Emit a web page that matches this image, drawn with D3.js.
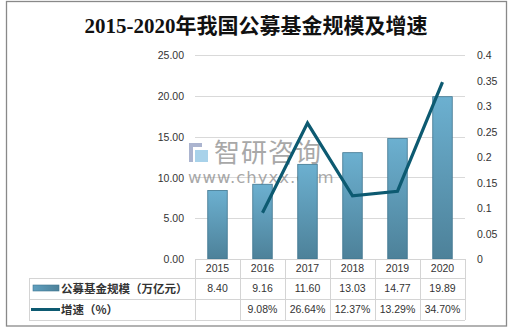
<!DOCTYPE html>
<html>
<head>
<meta charset="utf-8">
<script src="https://cdn.jsdelivr.net/npm/d3@7"></script>
<style>
  body { margin: 0; background: #fff; }
  svg { display: block; }
</style>
</head>
<body>
<svg id="chart" width="513" height="330"></svg>
<script>
// Public fund scale (trillion yuan) and year-on-year growth, 2015-2020
const years = ["2015", "2016", "2017", "2018", "2019", "2020"];
const fundScale = [8.40, 9.16, 11.60, 13.03, 14.77, 19.89];
const growth = [null, 0.0908, 0.2664, 0.1237, 0.1329, 0.3470];
const leftTicks = [0, 5, 10, 15, 20, 25];
const rightTicks = [0, 0.05, 0.1, 0.15, 0.2, 0.25, 0.3, 0.35, 0.4];
const seriesNames = ["公募基金规模（万亿元）", "增速（%）"];
const title = "2015-2020年我国公募基金规模及增速";

const svg = d3.select("#chart");
const fontCN = "'Liberation Sans', 'Noto Sans CJK SC', sans-serif";

const plot = { left: 195, right: 465, top: 55, bottom: 259 };

// outer frame
svg.append("rect")
  .attr("x", 6.5).attr("y", 1.5).attr("width", 500).attr("height", 324.5)
  .attr("fill", "#fff").attr("stroke", "#898989").attr("stroke-width", 1.3);

// title
svg.append("text")
  .attr("x", 256).attr("y", 33)
  .attr("text-anchor", "middle")
  .attr("font-family", "'Liberation Serif', 'Noto Sans CJK SC', serif")
  .attr("font-size", 21)
  .attr("font-weight", "bold")
  .attr("fill", "#111")
  .text(title);

const x = d3.scaleBand().domain(years).range([plot.left, plot.right]);
const yL = d3.scaleLinear().domain([0, 25]).range([plot.bottom, plot.top]);
const yR = d3.scaleLinear().domain([0, 0.4]).range([plot.bottom, plot.top]);

// gridlines
svg.append("g")
  .selectAll("line").data(leftTicks.filter(d => d > 0)).join("line")
  .attr("x1", plot.left).attr("x2", plot.right)
  .attr("y1", d => Math.round(yL(d)) + 0.5).attr("y2", d => Math.round(yL(d)) + 0.5)
  .attr("stroke", "#d9d9d9").attr("stroke-width", 1);

// left axis
const leftAxis = svg.append("g")
  .attr("transform", `translate(${plot.left - 11},0)`)
  .call(d3.axisLeft(yL).tickValues(leftTicks).tickFormat(d3.format(".2f")).tickSize(0).tickPadding(0));
leftAxis.select(".domain").remove();
leftAxis.selectAll("text")
  .attr("font-family", fontCN).attr("font-size", 10.5).attr("fill", "#333").attr("dy", "0.35em");

// right axis
const rightAxis = svg.append("g")
  .attr("transform", `translate(${plot.right + 12},0)`)
  .call(d3.axisRight(yR).tickValues(rightTicks).tickFormat(d => d === 0 ? "0" : String(+d.toFixed(2))).tickSize(0).tickPadding(0));
rightAxis.select(".domain").remove();
rightAxis.selectAll("text")
  .attr("font-family", fontCN).attr("font-size", 10.5).attr("fill", "#333").attr("dy", "0.35em");

// bar gradient
const defs = svg.append("defs");
const grad = defs.append("linearGradient").attr("id", "barGrad")
  .attr("x1", 0).attr("y1", 0).attr("x2", 0).attr("y2", 1);
grad.append("stop").attr("offset", "0%").attr("stop-color", "#6cb0d0");
grad.append("stop").attr("offset", "100%").attr("stop-color", "#4d8199");
const gradH = defs.append("linearGradient").attr("id", "legGrad")
  .attr("x1", 0).attr("y1", 0).attr("x2", 1).attr("y2", 0);
gradH.append("stop").attr("offset", "0%").attr("stop-color", "#5f9fbf");
gradH.append("stop").attr("offset", "100%").attr("stop-color", "#4d8199");

// watermark
const wm = svg.append("g").attr("opacity", 0.75);
wm.append("rect").attr("x", 189).attr("y", 143).attr("width", 13).attr("height", 4).attr("fill", "#8f9bc0");
wm.append("rect").attr("x", 189).attr("y", 147).attr("width", 4).attr("height", 15).attr("fill", "#8f9bc0");
wm.append("rect").attr("x", 195).attr("y", 150).attr("width", 13).attr("height", 12).attr("fill", "#8cc4e4");
wm.append("text").attr("x", 214).attr("y", 162)
  .attr("font-family", "'Noto Sans CJK SC', sans-serif").attr("font-size", 26)
  .attr("fill", "#8c8c8c").attr("letter-spacing", 1).text("智研咨询");
wm.append("text").attr("x", 188).attr("y", 183)
  .attr("font-family", "'DejaVu Sans', sans-serif").attr("font-size", 16.5)
  .attr("fill", "#8c8c8c").attr("letter-spacing", 1).text("www.chyxx.com");

// bars
const barW = 19.5;
svg.append("g")
  .selectAll("rect").data(fundScale).join("rect")
  .attr("x", (d, i) => x(years[i]) + x.bandwidth() / 2 - barW / 2)
  .attr("y", d => yL(d))
  .attr("width", barW)
  .attr("height", d => plot.bottom - yL(d))
  .attr("fill", "url(#barGrad)")
  .attr("stroke", "#3f7690").attr("stroke-width", 0.8);

// growth line
const line = d3.line()
  .defined(d => d.v !== null)
  .x(d => x(d.year) + x.bandwidth() / 2)
  .y(d => yR(d.v));
svg.append("path")
  .datum(years.map((year, i) => ({ year, v: growth[i] })))
  .attr("d", line)
  .attr("fill", "none")
  .attr("stroke", "#0d5a71")
  .attr("stroke-width", 3.2)
  .attr("stroke-linejoin", "miter");

// data table
const rows = [plot.bottom, 278, 299, 320];
const tableLeft = 29;
const tg = svg.append("g");
const gridColor = "#d4d4d4";
// horizontal rules
tg.append("line").attr("x1", plot.left).attr("x2", plot.right)
  .attr("y1", rows[0] + 0.5).attr("y2", rows[0] + 0.5).attr("stroke", gridColor);
[rows[1], rows[2], rows[3]].forEach(y => {
  tg.append("line").attr("x1", tableLeft).attr("x2", plot.right)
    .attr("y1", y + 0.5).attr("y2", y + 0.5).attr("stroke", gridColor);
});
// vertical rules
tg.append("line").attr("x1", tableLeft + 0.5).attr("x2", tableLeft + 0.5)
  .attr("y1", rows[1]).attr("y2", rows[3]).attr("stroke", gridColor);
years.forEach((yr, i) => {
  const xv = Math.round(x(yr)) + 0.5;
  tg.append("line").attr("x1", xv).attr("x2", xv)
    .attr("y1", rows[0]).attr("y2", rows[3]).attr("stroke", gridColor);
});
tg.append("line").attr("x1", plot.right + 0.5).attr("x2", plot.right + 0.5)
  .attr("y1", rows[0]).attr("y2", rows[3]).attr("stroke", gridColor);

const cellText = (txt, i, row) => tg.append("text")
  .attr("x", x(years[i]) + x.bandwidth() / 2)
  .attr("y", (rows[row] + rows[row + 1]) / 2)
  .attr("dy", "0.36em")
  .attr("text-anchor", "middle")
  .attr("font-family", fontCN).attr("font-size", 10.5).attr("fill", "#333")
  .text(txt);
years.forEach((yr, i) => cellText(yr, i, 0));
fundScale.forEach((v, i) => cellText(v.toFixed(2), i, 1));
growth.forEach((v, i) => { if (v !== null) cellText((v * 100).toFixed(2) + "%", i, 2); });

// legend keys in the table
tg.append("rect").attr("x", 33).attr("y", 285).attr("width", 26).attr("height", 6)
  .attr("fill", "url(#legGrad)").attr("stroke", "#3f7690").attr("stroke-width", 0.6);
tg.append("line").attr("x1", 31).attr("x2", 60).attr("y1", 309.5).attr("y2", 309.5)
  .attr("stroke", "#0d5a71").attr("stroke-width", 3);
[seriesNames[0], seriesNames[1]].forEach((name, k) => {
  tg.append("text")
    .attr("x", 61).attr("y", (rows[k + 1] + rows[k + 2]) / 2).attr("dy", "0.36em")
    .attr("font-family", "'Noto Sans CJK SC', sans-serif").attr("font-size", 11.5)
    .attr("font-weight", "bold").attr("fill", "#333")
    .text(name);
});
</script>
</body>
</html>
